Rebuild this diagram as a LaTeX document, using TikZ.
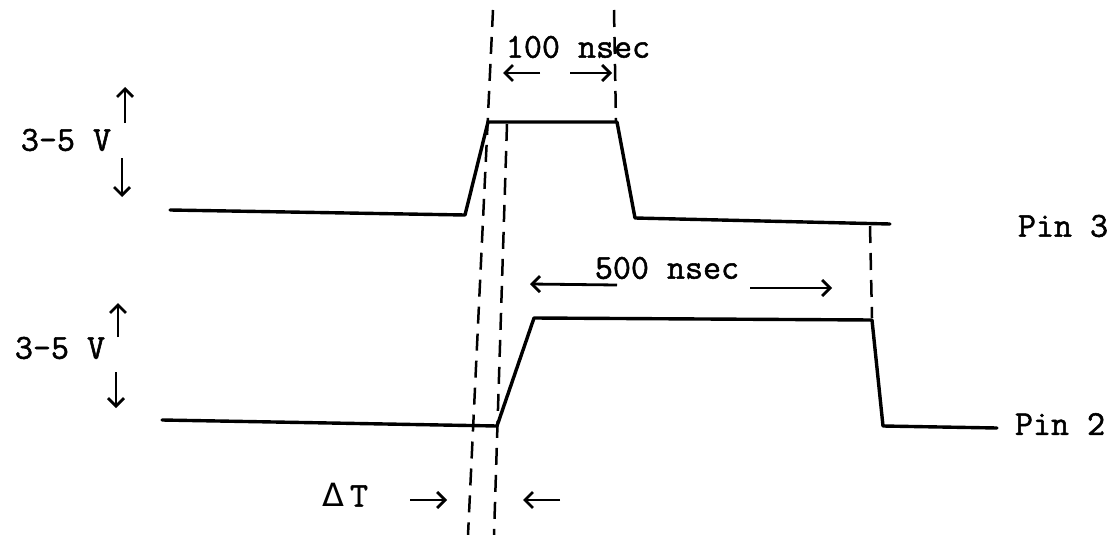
\documentclass[tikz,border=0pt]{standalone}
\usepackage{fontspec}
\setmonofont{Latin Modern Mono}[FakeBold=1.5]
\newfontfamily\dvsans{DejaVu Sans}
\usetikzlibrary{arrows.meta}
\begin{document}
\begin{tikzpicture}[x=1pt,y=-1pt,
  wave/.style={line width=3.4pt, line join=round, line cap=round},
  guide/.style={line width=2.5pt, dash pattern=on 17pt off 10pt},
  lbl/.style={font=\ttfamily\fontsize{35}{38}\selectfont, inner sep=0pt},
  dimarrow/.style={line width=2.8pt, -{Straight Barb[length=8pt,width=16pt]}}]
\useasboundingbox (0,0) rectangle (1119,535);

% Pin 3 waveform
\coordinate (p3a) at (170,210);
\coordinate (p3b) at (465,215);
\coordinate (p3c) at (488,122);
\coordinate (p3d) at (617,122);
\coordinate (p3e) at (635,218);
\coordinate (p3f) at (890,224);
\draw[wave] (p3a) -- (p3b) -- (p3c) -- (p3d) -- (p3e) -- (p3f);

% Pin 2 waveform
\coordinate (p2a) at (162,420);
\coordinate (p2b) at (497,426);
\coordinate (p2c) at (534,318);
\coordinate (p2d) at (872,320);
\coordinate (p2e) at (883,426);
\coordinate (p2f) at (997,428);
\draw[wave] (p2a) -- (p2b) -- (p2c) -- (p2d) -- (p2e) -- (p2f);

% dashed guides
\coordinate (gAt) at (493,10);  \coordinate (gAb) at (468,535);
\coordinate (gBt) at (507,124); \coordinate (gBb) at (494,535);
\coordinate (gCt) at (614,10);  \coordinate (gCb) at (616,122);
\coordinate (gDt) at (870,226); \coordinate (gDb) at (872,318);
\draw[guide] (gAt) -- (gAb);
\draw[guide] (gBt) -- (gBb);
\draw[guide] (gCt) -- (gCb);
\draw[guide] (gDt) -- (gDb);

% labels
\node[lbl] (t100) at (578,47) {100 nsec};
\node[lbl] (t500) at (667,268) {500 nsec};
\node[lbl] (pin3) at (1063,226) {Pin 3};
\node[lbl] (pin2) at (1060,424) {Pin 2};
\node[lbl] (v1) at (66,140) {3-5 V};
\node[lbl] (v2) at (60,348) {3-5 V};
\node[lbl] (dT) at (345,495) {{\dvsans\fontsize{32}{34}\selectfont Δ}\hspace{6pt}T};

% voltage arrows
\coordinate (v1us) at (125,123); \coordinate (v1ue) at (125,87);
\coordinate (v1ds) at (122,158); \coordinate (v1de) at (122,197);
\coordinate (v2us) at (118,337); \coordinate (v2ue) at (118,303);
\coordinate (v2ds) at (116,372); \coordinate (v2de) at (116,408);
\draw[dimarrow] (v1us) -- (v1ue);
\draw[dimarrow] (v1ds) -- (v1de);
\draw[dimarrow] (v2us) -- (v2ue);
\draw[dimarrow] (v2ds) -- (v2de);

% 100 nsec arrows
\coordinate (a1s) at (540,73); \coordinate (a1e) at (503,73);
\coordinate (a2s) at (570,73); \coordinate (a2e) at (612,73);
\draw[dimarrow] (a1s) -- (a1e);
\draw[dimarrow] (a2s) -- (a2e);

% 500 nsec arrows
\coordinate (b1s) at (617,285); \coordinate (b1e) at (530,284);
\coordinate (b2s) at (750,288); \coordinate (b2e) at (832,288);
\draw[dimarrow] (b1s) -- (b1e);
\draw[dimarrow] (b2s) -- (b2e);

% Delta T arrows
\coordinate (c1s) at (410,500); \coordinate (c1e) at (447,500);
\coordinate (c2s) at (560,500); \coordinate (c2e) at (523,500);
\draw[dimarrow] (c1s) -- (c1e);
\draw[dimarrow] (c2s) -- (c2e);
\end{tikzpicture}
\end{document}
